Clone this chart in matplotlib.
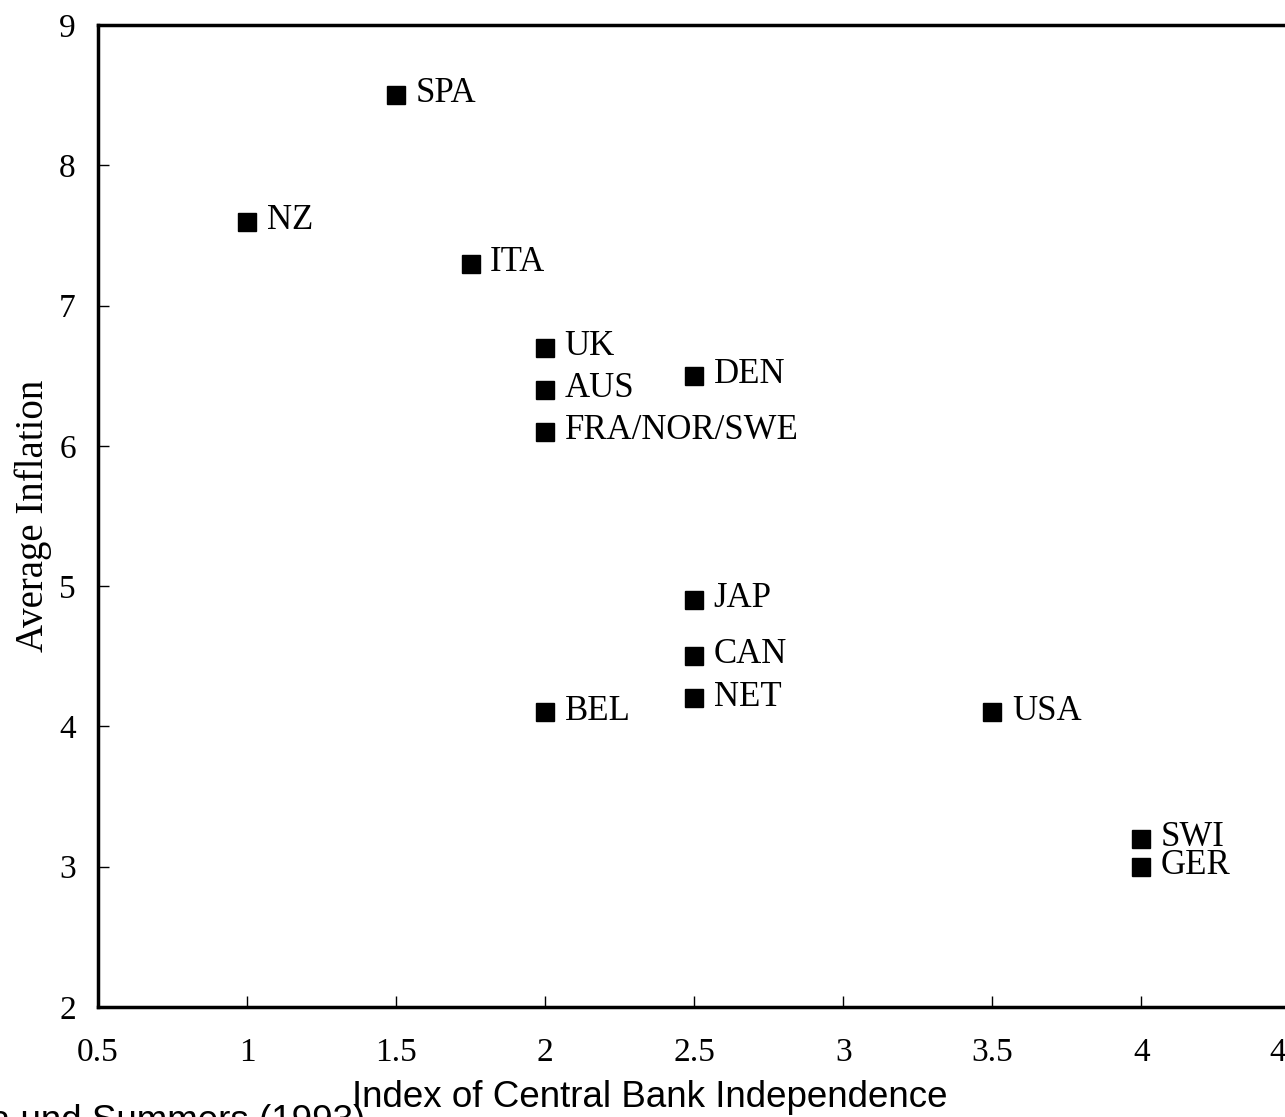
import matplotlib.pyplot as plt

# Alesina & Summers (1993): central bank independence vs. average inflation
countries = ["SPA", "NZ", "ITA", "UK", "AUS", "FRA/NOR/SWE", "DEN",
             "JAP", "CAN", "NET", "BEL", "USA", "SWI", "GER"]
independence = [1.5, 1.0, 1.75, 2.0, 2.0, 2.0, 2.5,
                2.5, 2.5, 2.5, 2.0, 3.5, 4.0, 4.0]
inflation = [8.5, 7.6, 7.3, 6.7, 6.4, 6.1, 6.5,
             4.9, 4.5, 4.2, 4.1, 4.1, 3.2, 3.0]
x_ticks = [0.5, 1, 1.5, 2, 2.5, 3, 3.5, 4, 4.5]
x_tick_labels = ["0.5", "1", "1.5", "2", "2.5", "3", "3.5", "4", "4.5"]
y_ticks = [2, 3, 4, 5, 6, 7, 8, 9]

serif = "Liberation Serif"
sans = "Liberation Sans"

fig = plt.figure(figsize=(12.85, 11.17), dpi=100)
ax = fig.add_axes([0.0763, 0.0985, 0.928, 0.879])

ax.plot(independence, inflation, linestyle="none", marker="s",
        markersize=13, color="black")
for name, x, y in zip(countries, independence, inflation):
    ax.annotate(name, (x, y), xytext=(14, 1), textcoords="offset points",
                va="center", ha="left", fontsize=25, family=serif)

ax.set_xlim(0.5, 4.5)
ax.set_ylim(2, 9)
ax.set_xticks(x_ticks)
ax.set_xticklabels(x_tick_labels)
ax.set_yticks(y_ticks)
ax.tick_params(direction="in", length=8, width=1, labelsize=24)
ax.tick_params(axis="x", pad=22)
ax.tick_params(axis="y", pad=16)
for lab in ax.get_xticklabels() + ax.get_yticklabels():
    lab.set_family(serif)

for side in ["left", "bottom", "top"]:
    ax.spines[side].set_linewidth(2.5)
ax.spines["right"].set_visible(False)

ax.set_ylabel("Average Inflation", fontsize=28, family=serif, labelpad=5)

fig.text(0.274, 0.0175, "Index of Central Bank Independence", fontsize=26.5,
         family=sans, ha="left", va="center")
fig.text(0.284, -0.004, "Quelle: Alesina und Summers (1993)", fontsize=26.5,
         family=sans, ha="right", va="center")

fig.savefig("out.png", dpi=100)
